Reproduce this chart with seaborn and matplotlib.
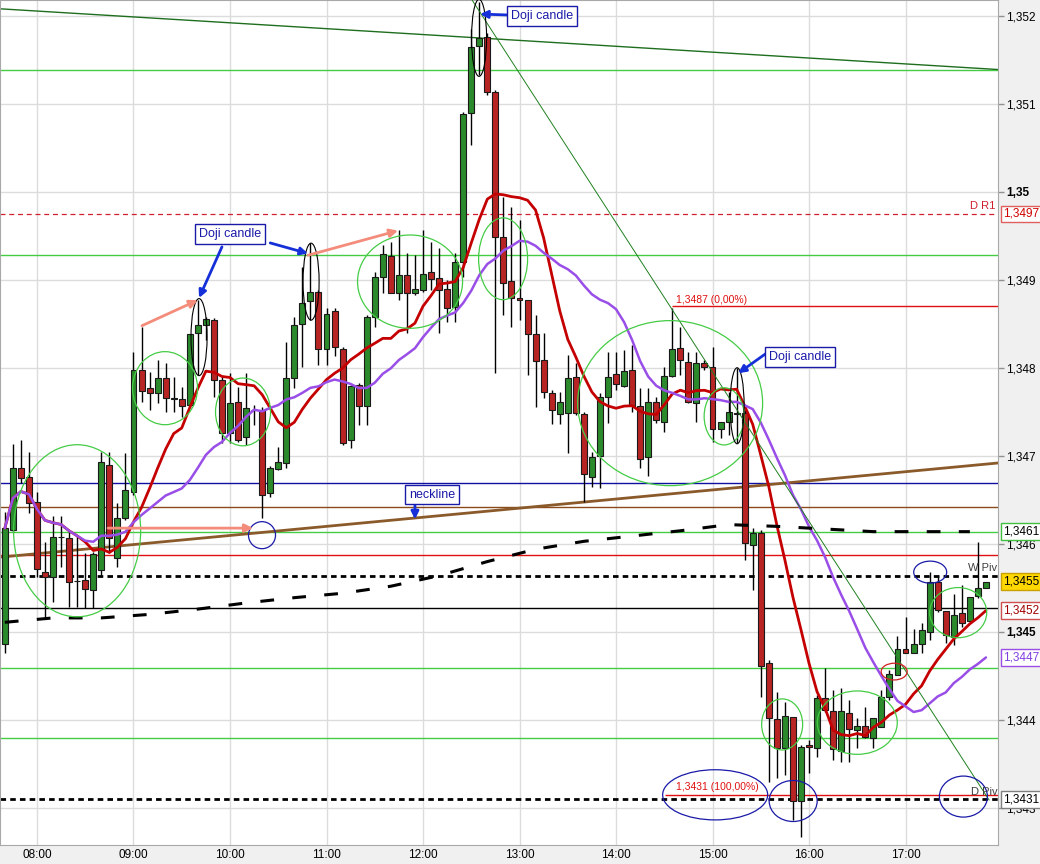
import matplotlib
matplotlib.use("Agg")
import matplotlib.pyplot as plt
from matplotlib.patches import Ellipse
import numpy as np
import pandas as pd
import seaborn as sns

# 5-minute candles, 07:40 -> 17:50
times = pd.date_range("2013-01-01 07:40", periods=123, freq="5min")

opens = [
    1.34486, 1.34616, 1.34686, 1.34676, 1.34648, 1.34568, 1.34563, 1.34608, 1.34607, 1.34558,
    1.34559, 1.34548, 1.34570, 1.34690, 1.34584, 1.34630, 1.34659, 1.34798, 1.34777, 1.34772,
    1.34789, 1.34765, 1.34765, 1.34758, 1.34840, 1.34849, 1.34855, 1.34786, 1.34726, 1.34761,
    1.34722, 1.34752, 1.34752, 1.34658, 1.34685, 1.34692, 1.34788, 1.34850, 1.34876, 1.34886,
    1.34822, 1.34865, 1.34822, 1.34718, 1.34781, 1.34757, 1.34858, 1.34903, 1.34927, 1.34885,
    1.34906, 1.34885, 1.34889, 1.34909, 1.34902, 1.34890, 1.34869, 1.34920, 1.35090, 1.35166,
    1.35176, 1.35114, 1.34949, 1.34899, 1.34880, 1.34877, 1.34839, 1.34809, 1.34772, 1.34748,
    1.34749, 1.34790, 1.34748, 1.34676, 1.34700, 1.34767, 1.34793, 1.34780, 1.34798, 1.34757,
    1.34699, 1.34761, 1.34739, 1.34791, 1.34823, 1.34807, 1.34760, 1.34806, 1.34801, 1.34731,
    1.34739, 1.34748, 1.34749, 1.34599, 1.34613, 1.34465, 1.34401, 1.34368, 1.34403, 1.34308,
    1.34372, 1.34368, 1.34425, 1.34410, 1.34365, 1.34408, 1.34389, 1.34393, 1.34380, 1.34392,
    1.34426, 1.34451, 1.34481, 1.34476, 1.34486, 1.34500, 1.34557, 1.34524, 1.34494, 1.34522,
    1.34513, 1.34541, 1.34550]

closes = [
    1.34618, 1.34686, 1.34675, 1.34647, 1.34572, 1.34563, 1.34608, 1.34608, 1.34557, 1.34558,
    1.34549, 1.34589, 1.34693, 1.34607, 1.34630, 1.34661, 1.34798, 1.34774, 1.34772, 1.34788,
    1.34766, 1.34765, 1.34757, 1.34838, 1.34849, 1.34856, 1.34786, 1.34726, 1.34760, 1.34718,
    1.34755, 1.34752, 1.34656, 1.34686, 1.34693, 1.34788, 1.34849, 1.34874, 1.34886, 1.34822,
    1.34861, 1.34824, 1.34715, 1.34780, 1.34757, 1.34858, 1.34903, 1.34930, 1.34885, 1.34906,
    1.34885, 1.34890, 1.34907, 1.34901, 1.34889, 1.34868, 1.34920, 1.35089, 1.35165, 1.35175,
    1.35114, 1.34949, 1.34897, 1.34880, 1.34877, 1.34839, 1.34808, 1.34773, 1.34752, 1.34761,
    1.34789, 1.34749, 1.34680, 1.34699, 1.34767, 1.34790, 1.34782, 1.34797, 1.34757, 1.34697,
    1.34761, 1.34741, 1.34791, 1.34822, 1.34809, 1.34761, 1.34806, 1.34801, 1.34731, 1.34738,
    1.34750, 1.34749, 1.34601, 1.34613, 1.34461, 1.34402, 1.34368, 1.34405, 1.34308, 1.34369,
    1.34369, 1.34425, 1.34411, 1.34367, 1.34410, 1.34390, 1.34393, 1.34381, 1.34402, 1.34426,
    1.34452, 1.34481, 1.34476, 1.34486, 1.34502, 1.34557, 1.34525, 1.34497, 1.34519, 1.34510,
    1.34540, 1.34550, 1.34557]

highs = [
    1.34636, 1.34714, 1.34718, 1.34705, 1.34659, 1.34602, 1.34632, 1.34632, 1.34614, 1.34610,
    1.34590, 1.34591, 1.34705, 1.34705, 1.34647, 1.34703, 1.34818, 1.34847, 1.34795, 1.34809,
    1.34806, 1.34790, 1.34778, 1.34838, 1.34877, 1.34858, 1.34857, 1.34790, 1.34794, 1.34778,
    1.34794, 1.34758, 1.34756, 1.34689, 1.34710, 1.34830, 1.34858, 1.34915, 1.34942, 1.34889,
    1.34868, 1.34868, 1.34824, 1.34781, 1.34783, 1.34860, 1.34909, 1.34940, 1.34943, 1.34957,
    1.34931, 1.34928, 1.34957, 1.34943, 1.34936, 1.34900, 1.34931, 1.35091, 1.35185, 1.35216,
    1.35181, 1.35116, 1.34994, 1.34983, 1.34968, 1.34877, 1.34860, 1.34840, 1.34775, 1.34773,
    1.34815, 1.34806, 1.34750, 1.34705, 1.34772, 1.34818, 1.34818, 1.34820, 1.34826, 1.34777,
    1.34777, 1.34767, 1.34801, 1.34868, 1.34847, 1.34818, 1.34818, 1.34809, 1.34824, 1.34738,
    1.34773, 1.34800, 1.34752, 1.34618, 1.34616, 1.34468, 1.34432, 1.34420, 1.34403, 1.34372,
    1.34377, 1.34428, 1.34459, 1.34434, 1.34436, 1.34423, 1.34402, 1.34415, 1.34402, 1.34434,
    1.34457, 1.34495, 1.34517, 1.34503, 1.34510, 1.34568, 1.34565, 1.34524, 1.34543, 1.34553,
    1.34540, 1.34602, 1.34557]

lows = [
    1.34476, 1.34614, 1.34669, 1.34635, 1.34563, 1.34516, 1.34534, 1.34574, 1.34528, 1.34528,
    1.34527, 1.34527, 1.34565, 1.34590, 1.34574, 1.34627, 1.34656, 1.34761, 1.34752, 1.34760,
    1.34750, 1.34750, 1.34744, 1.34756, 1.34792, 1.34832, 1.34767, 1.34715, 1.34715, 1.34716,
    1.34713, 1.34735, 1.34630, 1.34653, 1.34684, 1.34686, 1.34777, 1.34801, 1.34855, 1.34803,
    1.34803, 1.34813, 1.34713, 1.34709, 1.34735, 1.34735, 1.34847, 1.34885, 1.34885, 1.34877,
    1.34840, 1.34883, 1.34886, 1.34889, 1.34840, 1.34852, 1.34852, 1.34903, 1.35053, 1.35133,
    1.35110, 1.34794, 1.34860, 1.34847, 1.34855, 1.34792, 1.34756, 1.34766, 1.34736, 1.34736,
    1.34703, 1.34747, 1.34648, 1.34665, 1.34664, 1.34737, 1.34775, 1.34778, 1.34750, 1.34686,
    1.34677, 1.34737, 1.34727, 1.34790, 1.34792, 1.34760, 1.34739, 1.34798, 1.34716, 1.34720,
    1.34724, 1.34715, 1.34582, 1.34548, 1.34426, 1.34330, 1.34334, 1.34338, 1.34286, 1.34267,
    1.34340, 1.34358, 1.34409, 1.34355, 1.34352, 1.34352, 1.34368, 1.34380, 1.34368, 1.34392,
    1.34423, 1.34451, 1.34476, 1.34476, 1.34476, 1.34491, 1.34523, 1.34488, 1.34485, 1.34506,
    1.34511, 1.34539, 1.34550]

# long moving average (black dashed), read every 6 candles
slow_idx = [0, 6, 12, 18, 24, 30, 36, 42, 48, 54, 60, 66, 72, 78, 84, 90, 96, 102, 108, 114, 120]
slow_vals = [1.34511, 1.34516, 1.34516, 1.34520, 1.34526, 1.34533, 1.34539, 1.34544, 1.34552,
             1.34564, 1.34580, 1.34594, 1.34603, 1.34609, 1.34615, 1.34622, 1.34620, 1.34617,
             1.34614, 1.34614, 1.34614]

green_levels = [1.35139, 1.34928, 1.34614, 1.34459, 1.34380]
blue_level = 1.34669
brown_level = 1.34642
red_level = 1.34587
black_level = 1.34527
w_piv = 1.34564
d_piv = 1.34310
d_r1 = 1.34975
fib_0 = 1.3487
fib_100 = 1.34315
hour_labels = ["08:00", "09:00", "10:00", "11:00", "12:00", "13:00", "14:00", "15:00", "16:00", "17:00"]
price_ticks = [1.343, 1.344, 1.345, 1.346, 1.347, 1.348, 1.349, 1.350, 1.351, 1.352]

GREEN = "#2b8a2b"
RED = "#b82424"
LIME = "#45cc45"
NAVY = "#1a1aa8"
SALMON = "#f48c7c"
ARROW_BLUE = "#1530d8"
MA_RED = "#c40000"
MA_PURPLE = "#9a4ee8"

sns.set_style("white")
plt.rcParams["font.family"] = ["Liberation Sans", "DejaVu Sans"]

df = pd.DataFrame({"time": times, "open": opens, "high": highs, "low": lows, "close": closes})
df["idx"] = np.arange(len(df))
df["sma10"] = df["close"].rolling(10, min_periods=1).mean()
df["sma20"] = df["close"].rolling(20, min_periods=1).mean()

fig = plt.figure(figsize=(10.4, 8.64), dpi=100, facecolor="#f0f0f0")
ax = fig.add_axes([0, 19 / 864, 998 / 1040, 845 / 864])
ax.set_facecolor("white")

# horizontal levels
for lv in green_levels:
    ax.axhline(lv, color=LIME, lw=1, zorder=1)
ax.axhline(blue_level, color="#1010a0", lw=1, zorder=1)
ax.axhline(brown_level, color="#8b4a1a", lw=1, zorder=1)
ax.axhline(red_level, color="#e01010", lw=1, zorder=1)
ax.axhline(black_level, color="black", lw=1, zorder=1)
ax.axhline(w_piv, color="black", lw=2, ls=(0, (2, 1.5)), zorder=1)
ax.axhline(d_piv, color="black", lw=2, ls=(0, (2, 1.5)), zorder=1)
ax.axhline(d_r1, color="#d02030", lw=0.9, ls=(0, (4, 3)), zorder=1)
ax.hlines(fib_0, 83, 124, color="#e01010", lw=1, zorder=1)
ax.hlines(fib_100, 82.1, 124, color="#e01010", lw=1, zorder=1)

# trend lines
ax.plot([-0.6, 123.5], [1.35208, 1.35139], color="#1e6e1e", lw=1, zorder=2)
ax.plot([-0.6, 123.5], [1.34585, 1.34692], color="#8b5a2b", lw=2, zorder=2)
ax.plot([58.1, 122.4], [1.35218, 1.34309], color="#208020", lw=0.7, zorder=6)

# candles
o = df["open"].to_numpy()
c = df["close"].to_numpy()
colors = np.where(c > o, GREEN, np.where(c < o, RED, "black"))
ax.vlines(df["idx"], df["low"], df["high"], color="black", lw=1, zorder=3)
ax.bar(df["idx"], np.maximum(np.abs(c - o), 0.000004), bottom=np.minimum(o, c), width=0.74,
       color=colors, edgecolor="#1a1a1a", linewidth=0.8, zorder=4)

# moving averages
sns.lineplot(data=df, x="idx", y="sma10", color=MA_RED, lw=2, ax=ax, zorder=5)
sns.lineplot(data=df, x="idx", y="sma20", color=MA_PURPLE, lw=1.8, ax=ax, zorder=5)
sns.lineplot(x=slow_idx, y=slow_vals, color="black", lw=2.2, linestyle=(0, (4.5, 6)), ax=ax, zorder=5)

# ellipses
green_ell = [(8.99, 1.34615, 15.8, 0.001955), (19.92, 1.34777, 8.08, 0.00083),
             (29.62, 1.34750, 6.84, 0.00077), (50.39, 1.34898, 13.06, 0.00106),
             (61.96, 1.34924, 6.09, 0.00093), (82.73, 1.34760, 23.0, 0.001875),
             (89.45, 1.34745, 4.98, 0.00065), (96.66, 1.34395, 5.1, 0.00058),
             (106.0, 1.34397, 9.95, 0.00072), (118.55, 1.34522, 7.09, 0.00057)]
for x, y, w, h in green_ell:
    ax.add_patch(Ellipse((x, y), w, h, fill=False, ec=LIME, lw=0.9, zorder=7))
ax.add_patch(Ellipse((110.59, 1.34455), 3.23, 0.00019, fill=False, ec="#d02020", lw=0.9, zorder=7))
black_ell = [(24.15, 1.34835, 2.0, 0.000875), (38.08, 1.34898, 2.0, 0.000875),
             (58.97, 1.35175, 1.87, 0.000875), (91.06, 1.34757, 1.74, 0.000864)]
for x, y, w, h in black_ell:
    ax.add_patch(Ellipse((x, y), w, h, fill=False, ec="black", lw=0.8, zorder=7))
blue_ell = [(31.98, 1.34610, 3.36, 0.000307), (88.33, 1.34315, 13.06, 0.00057),
            (98.03, 1.34308, 5.97, 0.000466), (115.07, 1.34568, 4.1, 0.00025),
            (119.2, 1.34313, 5.97, 0.000466)]
for x, y, w, h in blue_ell:
    ax.add_patch(Ellipse((x, y), w, h, fill=False, ec=NAVY, lw=0.9, zorder=7))

# salmon arrows
for (x0, y0), (x1, y1) in [((17.06, 1.34848), (24.0, 1.34877)),
                           ((37.7, 1.34928), (48.9, 1.34956)),
                           ((12.83, 1.34618), (30.87, 1.34618))]:
    ax.annotate("", xy=(x1, y1), xytext=(x0, y0),
                arrowprops=dict(arrowstyle="-|>", color=SALMON, lw=2, mutation_scale=12,
                                shrinkA=0, shrinkB=0), zorder=8)

# blue arrows
for (x0, y0), (x1, y1) in [((27.0, 1.349375), (24.15, 1.348795)),
                           ((33.0, 1.34942), (37.7, 1.34930)),
                           ((62.5, 1.35201), (59.1, 1.35202)),
                           ((94.9, 1.34818), (91.2, 1.34794)),
                           ((51.0, 1.34644), (51.0, 1.34628))]:
    ax.annotate("", xy=(x1, y1), xytext=(x0, y0),
                arrowprops=dict(arrowstyle="-|>", color=ARROW_BLUE, lw=2, mutation_scale=11,
                                shrinkA=0, shrinkB=0), zorder=8)

box = dict(boxstyle="square,pad=0.3", fc="white", ec=NAVY, lw=1)
for x, y, s in [(28.0, 1.34952, "Doji candle"), (66.8, 1.35200, "Doji candle"),
                (98.9, 1.348125, "Doji candle"), (53.1, 1.34656, "neckline")]:
    ax.text(x, y, s, ha="center", va="center", color=NAVY, fontsize=9, bbox=box, zorder=9)

# chart labels
ax.text(123.2, d_r1 + 0.00003, "D R1", ha="right", va="bottom", color="#d02030", fontsize=8, zorder=9)
ax.text(83.4, fib_0 + 0.00002, "1,3487 (0,00%)", ha="left", va="bottom", color="#e01010", fontsize=7.5, zorder=9)
ax.text(83.4, fib_100 + 0.00003, "1,3431 (100,00%)", ha="left", va="bottom", color="#e01010", fontsize=7.5, zorder=9)
ax.text(123.4, w_piv + 0.00003, "W Piv", ha="right", va="bottom", color="#404040", fontsize=8, zorder=9)
ax.text(123.4, d_piv + 0.00003, "D Piv", ha="right", va="bottom", color="#404040", fontsize=8, zorder=9)

ax.set_xlim(-0.6, 123.5)
ax.set_ylim(1.34258, 1.35218)
ax.set_xlabel("")
ax.set_ylabel("")

ax.set_xticks(range(4, 124, 12))
ax.set_xticklabels(hour_labels)
ax.set_yticks(price_ticks)
ax.set_yticklabels([f"{t:.3f}".rstrip("0").replace(".", ",") for t in price_ticks])
ax.yaxis.tick_right()
ax.tick_params(axis="y", length=4, width=1, color="#909090", pad=2, labelsize=8.5, labelcolor="black")
ax.tick_params(axis="x", length=2, width=1, color="#c8c8c8", pad=1, labelsize=8.5, labelcolor="black")
for lab in ax.get_yticklabels():
    if lab.get_text() in ("1,35", "1,345"):
        lab.set_fontweight("bold")
ax.grid(True, color="#dcdcdc", lw=1)
ax.set_axisbelow(True)
for sp in ax.spines.values():
    sp.set_color("#a8a8a8")

# boxed price labels on the right scale
ytr = ax.get_yaxis_transform()
right_labels = [
    (d_r1, "1,3497", "#d00000", "white", "#e06060"),
    (green_levels[2], "1,3461", "black", "white", "#40c040"),
    (df["close"].iloc[-1], "1,3455", "black", "#ffd800", "#c8a000"),
    (df["sma10"].iloc[-1], "1,3452", "#a00000", "white", "#d05050"),
    (df["sma20"].iloc[-1], "1,3447", "#8040e0", "white", MA_PURPLE),
    (d_piv, "1,3431", "black", "white", "#808080"),
]
for y, s, tc, fc, ec in right_labels:
    ax.text(1.005, y, s, transform=ytr, ha="left", va="center", color=tc, fontsize=8.5,
            bbox=dict(boxstyle="square,pad=0.2", fc=fc, ec=ec, lw=1), clip_on=False, zorder=10)

fig.savefig("out.png", dpi=100, facecolor=fig.get_facecolor())
